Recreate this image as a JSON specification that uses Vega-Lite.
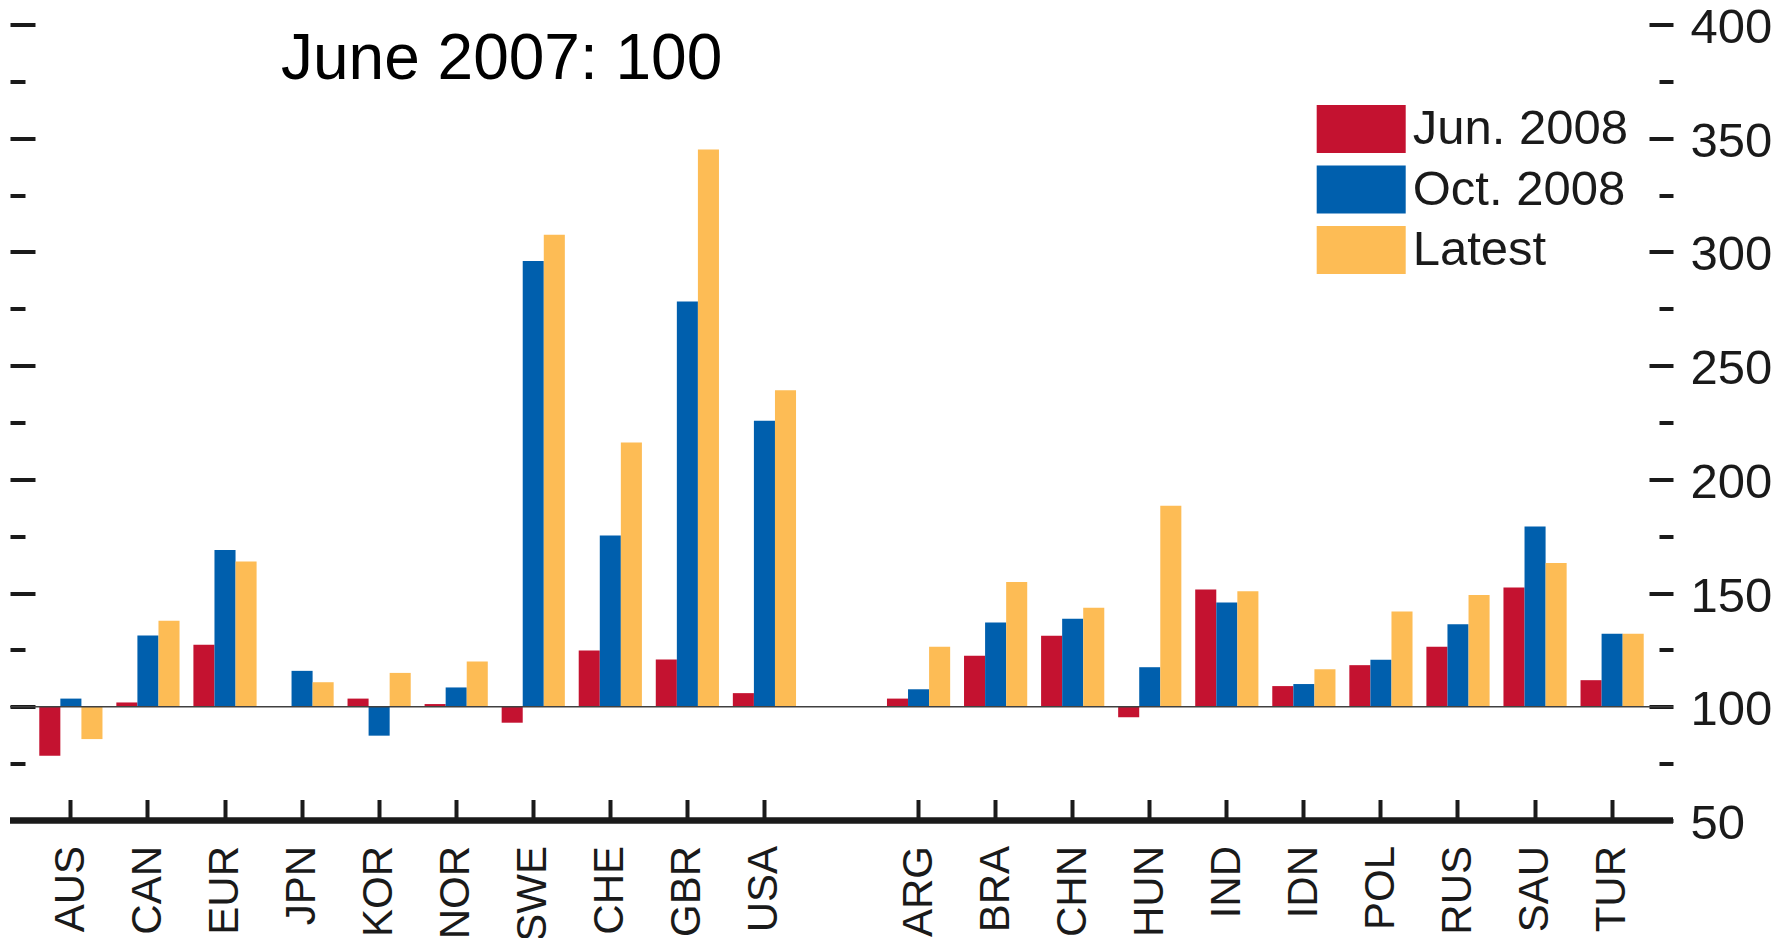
{
  "$schema": "https://vega.github.io/schema/vega-lite/v6.json",
  "width": 1663,
  "height": 796,
  "autosize": {"type": "none"},
  "padding": {"left": 10, "top": 24.5, "right": 114, "bottom": 117.5},
  "background": "white",
  "config": {
    "view": {"stroke": null},
    "axis": {"grid": false, "domain": false, "title": null}
  },
  "title": {
    "text": "June 2007: 100",
    "anchor": "start",
    "frame": "group",
    "orient": "top",
    "font": "Liberation Sans",
    "fontSize": 64,
    "fontWeight": "normal",
    "color": "#000000",
    "baseline": "alphabetic",
    "offset": 0,
    "dx": 271,
    "dy": 139
  },
  "layer": [
    {
      "data": {
        "values": [
          {"country": "AUS", "series": "Jun. 2008", "value": 78.5},
          {"country": "AUS", "series": "Oct. 2008", "value": 103.6},
          {"country": "AUS", "series": "Latest", "value": 85.8},
          {"country": "CAN", "series": "Jun. 2008", "value": 101.9},
          {"country": "CAN", "series": "Oct. 2008", "value": 131.3},
          {"country": "CAN", "series": "Latest", "value": 137.8},
          {"country": "EUR", "series": "Jun. 2008", "value": 127.3},
          {"country": "EUR", "series": "Oct. 2008", "value": 168.9},
          {"country": "EUR", "series": "Latest", "value": 163.9},
          {"country": "JPN", "series": "Jun. 2008", "value": 100},
          {"country": "JPN", "series": "Oct. 2008", "value": 115.8},
          {"country": "JPN", "series": "Latest", "value": 110.8},
          {"country": "KOR", "series": "Jun. 2008", "value": 103.6},
          {"country": "KOR", "series": "Oct. 2008", "value": 87.3},
          {"country": "KOR", "series": "Latest", "value": 114.9},
          {"country": "NOR", "series": "Jun. 2008", "value": 101.2},
          {"country": "NOR", "series": "Oct. 2008", "value": 108.5},
          {"country": "NOR", "series": "Latest", "value": 119.9},
          {"country": "SWE", "series": "Jun. 2008", "value": 93.0},
          {"country": "SWE", "series": "Oct. 2008", "value": 296.0},
          {"country": "SWE", "series": "Latest", "value": 307.6},
          {"country": "CHE", "series": "Jun. 2008", "value": 124.7},
          {"country": "CHE", "series": "Oct. 2008", "value": 175.3},
          {"country": "CHE", "series": "Latest", "value": 216.2},
          {"country": "GBR", "series": "Jun. 2008", "value": 120.8},
          {"country": "GBR", "series": "Oct. 2008", "value": 278.2},
          {"country": "GBR", "series": "Latest", "value": 345.0},
          {"country": "USA", "series": "Jun. 2008", "value": 106.0},
          {"country": "USA", "series": "Oct. 2008", "value": 225.8},
          {"country": "USA", "series": "Latest", "value": 239.2},
          {"country": "ARG", "series": "Jun. 2008", "value": 103.6},
          {"country": "ARG", "series": "Oct. 2008", "value": 107.7},
          {"country": "ARG", "series": "Latest", "value": 126.4},
          {"country": "BRA", "series": "Jun. 2008", "value": 122.4},
          {"country": "BRA", "series": "Oct. 2008", "value": 137.1},
          {"country": "BRA", "series": "Latest", "value": 154.9},
          {"country": "CHN", "series": "Jun. 2008", "value": 131.2},
          {"country": "CHN", "series": "Oct. 2008", "value": 138.7},
          {"country": "CHN", "series": "Latest", "value": 143.6},
          {"country": "HUN", "series": "Jun. 2008", "value": 95.4},
          {"country": "HUN", "series": "Oct. 2008", "value": 117.4},
          {"country": "HUN", "series": "Latest", "value": 188.4},
          {"country": "IND", "series": "Jun. 2008", "value": 151.6},
          {"country": "IND", "series": "Oct. 2008", "value": 145.9},
          {"country": "IND", "series": "Latest", "value": 150.8},
          {"country": "IDN", "series": "Jun. 2008", "value": 109.1},
          {"country": "IDN", "series": "Oct. 2008", "value": 110.0},
          {"country": "IDN", "series": "Latest", "value": 116.5},
          {"country": "POL", "series": "Jun. 2008", "value": 118.3},
          {"country": "POL", "series": "Oct. 2008", "value": 120.7},
          {"country": "POL", "series": "Latest", "value": 141.9},
          {"country": "RUS", "series": "Jun. 2008", "value": 126.4},
          {"country": "RUS", "series": "Oct. 2008", "value": 136.3},
          {"country": "RUS", "series": "Latest", "value": 149.2},
          {"country": "SAU", "series": "Jun. 2008", "value": 152.5},
          {"country": "SAU", "series": "Oct. 2008", "value": 179.3},
          {"country": "SAU", "series": "Latest", "value": 163.2},
          {"country": "TUR", "series": "Jun. 2008", "value": 111.7},
          {"country": "TUR", "series": "Oct. 2008", "value": 132.1},
          {"country": "TUR", "series": "Latest", "value": 132.1}
        ]
      },
      "mark": {"type": "bar"},
      "encoding": {
        "x": {
          "field": "country",
          "type": "nominal",
          "scale": {
            "domain": ["AUS", "CAN", "EUR", "JPN", "KOR", "NOR", "SWE", "CHE", "GBR", "USA", "gap", "ARG", "BRA", "CHN", "HUN", "IND", "IDN", "POL", "RUS", "SAU", "TUR"],
            "paddingInner": 0.18,
            "paddingOuter": 0.38
          },
          "axis": {
            "orient": "bottom",
            "values": ["AUS", "CAN", "EUR", "JPN", "KOR", "NOR", "SWE", "CHE", "GBR", "USA", "ARG", "BRA", "CHN", "HUN", "IND", "IDN", "POL", "RUS", "SAU", "TUR"],
            "offset": -21,
            "tickSize": 21,
            "tickWidth": 4,
            "tickColor": "#1a1a1a",
            "labelAngle": 270,
            "labelAlign": "right",
            "labelBaseline": "middle",
            "labelPadding": 25,
            "labelFont": "Liberation Sans",
            "labelFontSize": 42,
            "labelColor": "#1a1a1a",
            "labelLimit": 300
          }
        },
        "xOffset": {
          "field": "series",
          "type": "nominal",
          "scale": {"domain": ["Jun. 2008", "Oct. 2008", "Latest"], "paddingInner": 0, "paddingOuter": 0}
        },
        "y": {
          "field": "value",
          "type": "quantitative",
          "scale": {"domain": [50, 400], "nice": false, "zero": false},
          "axis": {
            "orient": "right",
            "values": [50, 100, 150, 200, 250, 300, 350, 400],
            "offset": -24,
            "tickSize": 24,
            "tickWidth": 4,
            "tickColor": "#1a1a1a",
            "labelPadding": 17,
            "labelOffset": 3,
            "labelFont": "Liberation Sans",
            "labelFontSize": 49,
            "labelColor": "#1a1a1a",
            "labelBaseline": "middle"
          }
        },
        "y2": {"datum": 100},
        "color": {
          "field": "series",
          "type": "nominal",
          "scale": {"domain": ["Jun. 2008", "Oct. 2008", "Latest"], "range": ["#C41230", "#005FAD", "#FDBC55"]},
          "legend": {
            "title": null,
            "orient": "none",
            "legendX": 1317.2,
            "legendY": 70.5,
            "padding": 0,
            "symbolType": "M-1.309,-0.706H1.309V0.706H-1.309Z",
            "symbolSize": 4624,
            "symbolStrokeWidth": 0,
            "symbolOpacity": 1,
            "labelFont": "Liberation Sans",
            "labelFontSize": 49,
            "labelColor": "#1a1a1a",
            "labelOffset": 17.5,
            "labelLimit": 400,
            "rowPadding": 1.5
          }
        }
      }
    },
    {
      "data": {"values": [{"level": 100}]},
      "mark": {"type": "rule", "color": "#404040", "strokeWidth": 1.5},
      "encoding": {
        "y": {
          "field": "level",
          "type": "quantitative",
          "scale": {"domain": [50, 400], "nice": false, "zero": false},
          "axis": {
            "orient": "right",
            "values": [75, 125, 175, 225, 275, 325, 375],
            "offset": -14,
            "tickSize": 14,
            "tickWidth": 4,
            "tickColor": "#1a1a1a",
            "labels": false
          }
        }
      }
    },
    {
      "data": {"values": [{"level": 50}]},
      "mark": {"type": "rule", "color": "#1a1a1a", "strokeWidth": 6},
      "encoding": {
        "y": {
          "field": "level",
          "type": "quantitative",
          "scale": {"domain": [50, 400], "nice": false, "zero": false},
          "axis": {
            "orient": "left",
            "values": [50, 100, 150, 200, 250, 300, 350, 400],
            "offset": -25,
            "tickSize": 25,
            "tickWidth": 4,
            "tickColor": "#1a1a1a",
            "labels": false
          }
        }
      }
    },
    {
      "data": {"values": [{"level": 50}]},
      "mark": {"type": "rule", "color": "#1a1a1a", "strokeWidth": 6},
      "encoding": {
        "y": {
          "field": "level",
          "type": "quantitative",
          "scale": {"domain": [50, 400], "nice": false, "zero": false},
          "axis": {
            "orient": "left",
            "values": [75, 125, 175, 225, 275, 325, 375],
            "offset": -15,
            "tickSize": 15,
            "tickWidth": 4,
            "tickColor": "#1a1a1a",
            "labels": false
          }
        }
      }
    }
  ],
  "resolve": {"axis": {"y": "independent"}}
}
